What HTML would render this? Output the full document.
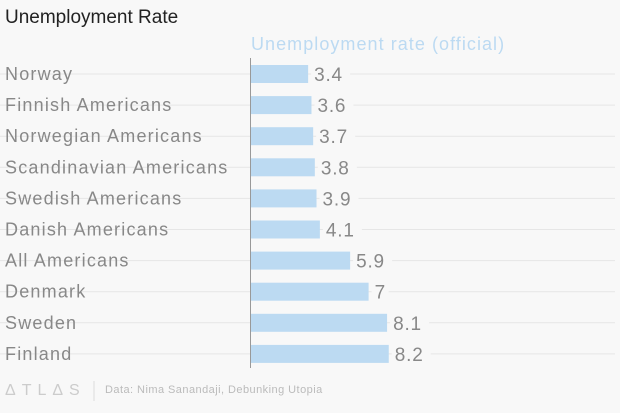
<!DOCTYPE html>
<html><head><meta charset="utf-8"><style>
body{margin:0;background:#f8f8f8;font-family:"Liberation Sans",sans-serif;}
</style></head><body>
<svg id="c" width="620" height="408" xmlns="http://www.w3.org/2000/svg">
<rect width="620" height="408" fill="#f8f8f8"/>
<text x="5" y="23" font-size="19" fill="#222">Unemployment Rate</text>
<text x="251" y="50" font-size="18" fill="#bcdaf2" letter-spacing="1.05">Unemployment rate (official)</text>
<g id="rows"></g>
<line x1="250.5" y1="58" x2="250.5" y2="368" stroke="#999" stroke-width="1"/>
<text x="5" y="395" font-size="16" fill="#ccc" letter-spacing="6">ΔTLΔS</text>
<line x1="94" y1="381" x2="94" y2="401" stroke="#ddd"/>
<text x="105" y="393" font-size="11" fill="#bbb" letter-spacing="0.45">Data: Nima Sanandaji, Debunking Utopia</text>
</svg>
<script>
const categories=["Norway","Finnish Americans","Norwegian Americans","Scandinavian Americans","Swedish Americans","Danish Americans","All Americans","Denmark","Sweden","Finland"];
const values=[3.4,3.6,3.7,3.8,3.9,4.1,5.9,7,8.1,8.2];
const labels=["3.4","3.6","3.7","3.8","3.9","4.1","5.9","7","8.1","8.2"];
const NS="http://www.w3.org/2000/svg";
const g=document.getElementById('rows');
const x=v=>251+v*16.8;
const y=i=>74+i*31.1;
function mk(t,a){const e=document.createElementNS(NS,t);for(const k in a)e.setAttribute(k,a[k]);g.appendChild(e);return e;}
categories.forEach((c,i)=>{
  const cy=y(i);
  const gl=mk('line',{x1:0,x2:615,y1:cy,y2:cy,stroke:'#e6e6e6'});
  
  
  const lab=mk('text',{x:5,y:cy+6,'font-size':18,fill:'#888','letter-spacing':1.2});lab.textContent=c;
  
  
  const r=mk('rect',{x:251,y:cy-9,width:x(values[i])-251,height:18,fill:'#bcdaf2'});
  
  
  const bg=mk('rect',{x:x(values[i])+3,y:cy-10,width:labels[i].length*11+6,height:20,fill:'#f8f8f8'});
  
  
  const v=mk('text',{x:x(values[i])+6,y:cy+7,'font-size':19,fill:'#888','letter-spacing':0.8});v.textContent=labels[i];
  
  
});
</script>
</body></html>
